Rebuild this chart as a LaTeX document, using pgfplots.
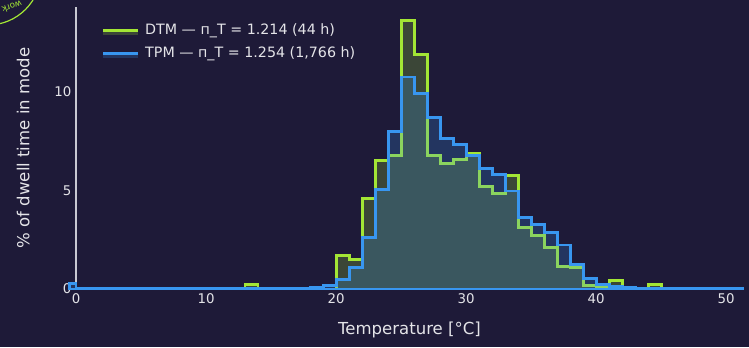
\documentclass[border=0pt]{standalone}
\usepackage{fontspec}
\setmainfont{DejaVu Sans}
\usepackage{pgfplots}
\pgfplotsset{compat=1.18}
\definecolor{bg}{RGB}{30,26,56}
\definecolor{lime}{RGB}{163,230,53}
\definecolor{bblue}{RGB}{56,150,240}
\definecolor{txt}{RGB}{228,228,232}
\definecolor{xline}{RGB}{215,235,240}
\definecolor{yline}{RGB}{200,200,210}
\begin{document}
\begin{tikzpicture}[x=0.75pt,y=0.75pt]
\useasboundingbox (0,0) rectangle (749,347);
\fill[bg] (0,0) rectangle (749,347);
\draw[lime, line width=0.9pt] (-12,375) circle (53);
\node[lime, rotate=200, font=\fontsize{6.5}{7}\selectfont] at (12,340) {work};
\begin{axis}[
  at={(57pt,43.5pt)}, anchor=south west,
  scale only axis, width=500.25pt, height=211.5pt,
  xmin=0, xmax=51.3, ymin=0, ymax=14.3,
  clip=false,
  axis x line=bottom, axis y line=left,
  x axis line style={xline, line width=1.2pt, -},
  y axis line style={yline, line width=1pt, -},
  major tick length=0pt,
  xtick={0,10,20,30,40,50}, ytick={0,5,10},
  /pgf/number format/assume math mode=true,
  ticklabel style={font=\fontsize{10}{12}\selectfont, text=txt},
  xlabel={Temperature [°C]}, ylabel={\% of dwell time in mode},
  label style={text=txt, font=\fontsize{12.4}{14}\selectfont},
  xlabel style={at={(axis description cs:0.5,-0.145)}, anchor=center},
  ylabel style={at={(axis description cs:-0.079,0.5)}, anchor=center},
  legend style={at={(axis description cs:0.032,0.96)}, anchor=north west,
    draw=none, fill=none, text=txt, font=\fontsize{10.7}{12}\selectfont,
    row sep=3.6pt, nodes={inner xsep=4.5pt}},
  legend cell align=left,
  legend image code/.code={
    \path[fill, draw=none] (0pt,-3.5pt) rectangle (26pt,0pt);
    \path[draw, fill=none] (0pt,0pt) -- (26pt,0pt);
  },
]
\addplot[const plot, draw=lime, fill=lime, fill opacity=0.22, line width=2.2pt]
coordinates {
(0,0) (13,0.22) (14,0) (20,1.69) (21,1.5) (22,4.6) (23,6.5) (24,6.77)
(25,13.6) (26,11.9) (27,6.77) (28,6.36) (29,6.56) (30,6.89) (31,5.19)
(32,4.82) (33,5.75) (34,3.1) (35,2.7) (36,2.1) (37,1.15) (38,1.1)
(39,0.2) (40,0.12) (41,0.42) (42,0.05) (43,0) (44,0.22) (45,0) (51.3,0)
} \closedcycle;
\addlegendentry{DTM — п\_T = 1.214 (44 h)}
\addplot[const plot, draw=bblue, fill=bblue, fill opacity=0.22, line width=2.2pt]
coordinates {
(-0.5,0.3) (0,0.02) (16,0.05) (17,0.02) (18,0.06) (19,0.18) (20,0.46)
(21,1.08) (22,2.62) (23,5.03) (24,7.99) (25,10.75) (26,9.93) (27,8.7)
(28,7.65) (29,7.34) (30,6.79) (31,6.13) (32,5.79) (33,4.97) (34,3.62)
(35,3.28) (36,2.88) (37,2.23) (38,1.25) (39,0.55) (40,0.25) (41,0.12)
(42,0.08) (43,0.05) (44,0.04) (45,0.03) (46,0.01) (51.3,0.01)
} \closedcycle;
\addlegendentry{TPM — п\_T = 1.254 (1,766 h)}
\end{axis}
\end{tikzpicture}
\end{document}
